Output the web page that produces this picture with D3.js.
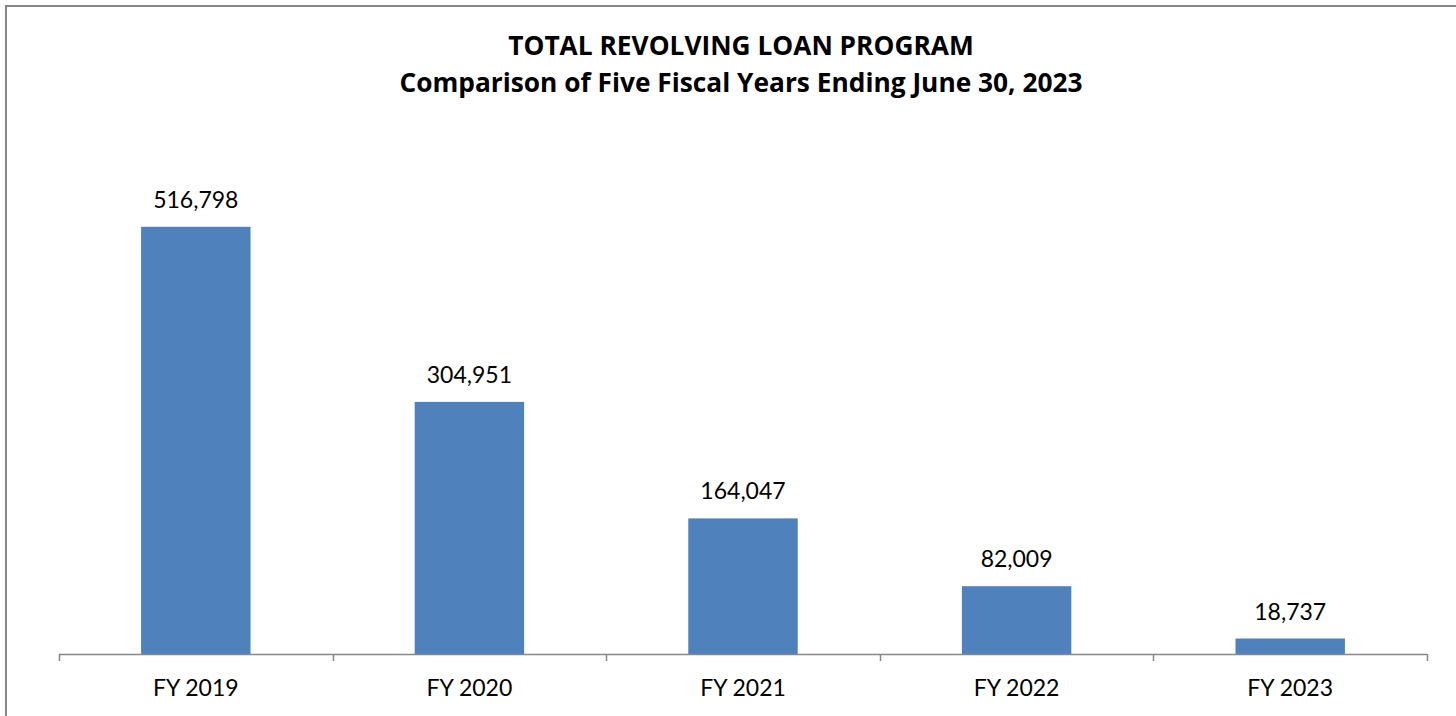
<!DOCTYPE html>
<html><head><meta charset="utf-8">
<script src="https://cdn.jsdelivr.net/npm/d3@7"></script>
<style>
html,body{margin:0;padding:0;background:#fff;}
svg{display:block;}
text{font-family:Lato,"Open Sans",sans-serif;fill:#000;}
text.title{font-family:"Open Sans",Lato,sans-serif;}
</style></head>
<body><svg id="c" width="1456" height="716"></svg>
<script>
const categories = ["FY 2019","FY 2020","FY 2021","FY 2022","FY 2023"];
const values = [516798, 304951, 164047, 82009, 18737];
const titleLines = ["TOTAL REVOLVING LOAN PROGRAM","Comparison of Five Fiscal Years Ending June 30, 2023"];

const svg = d3.select("#c");
// outer chart border
svg.append("path").attr("d","M6,720V6H1460").attr("fill","none").attr("stroke","#878787").attr("stroke-width",2);

const x = d3.scaleBand().domain(categories).range([59,1427]).paddingInner(0.6).paddingOuter(0.3);
const y = d3.scaleLinear().domain([0,600000]).range([654,158]);

svg.selectAll("text.title").data(titleLines).enter().append("text")
  .attr("class","title").attr("x",741).attr("y",(d,i)=>55+i*36.5)
  .attr("text-anchor","middle").attr("font-weight","bold").attr("font-size",26.3).text(d=>d);

svg.selectAll("rect.bar").data(values).enter().append("rect")
  .attr("class","bar").attr("x",(d,i)=>x(categories[i])).attr("width",x.bandwidth())
  .attr("y",d=>y(d)).attr("height",d=>y(0)-y(d)).attr("fill","#4F81BD");

const fmt = d3.format(",");
svg.selectAll("text.lbl").data(values).enter().append("text")
  .attr("class","lbl").attr("x",(d,i)=>x(categories[i])+x.bandwidth()/2).attr("y",d=>y(d)-19)
  .attr("text-anchor","middle").attr("font-size",23).text(d=>fmt(d));

// x axis with ticks at category boundaries
const ax = svg.append("g");
const [r0, r1] = x.range();
ax.append("line").attr("x1",r0).attr("x2",r1).attr("y1",654.5).attr("y2",654.5).attr("stroke","#878787").attr("stroke-width",1.5);
const bounds = d3.range(categories.length+1).map(i=>r0 + i*(r1-r0)/categories.length);
ax.selectAll("line.t").data(bounds).enter().append("line").attr("class","t")
  .attr("x1",d=>Math.round(d)+0.5).attr("x2",d=>Math.round(d)+0.5).attr("y1",654).attr("y2",661)
  .attr("stroke","#878787").attr("stroke-width",1.5);
ax.selectAll("text.cat").data(categories).enter().append("text").attr("class","cat")
  .attr("x",d=>x(d)+x.bandwidth()/2).attr("y",696).attr("text-anchor","middle").attr("font-size",23).text(d=>d);
</script></body></html>
